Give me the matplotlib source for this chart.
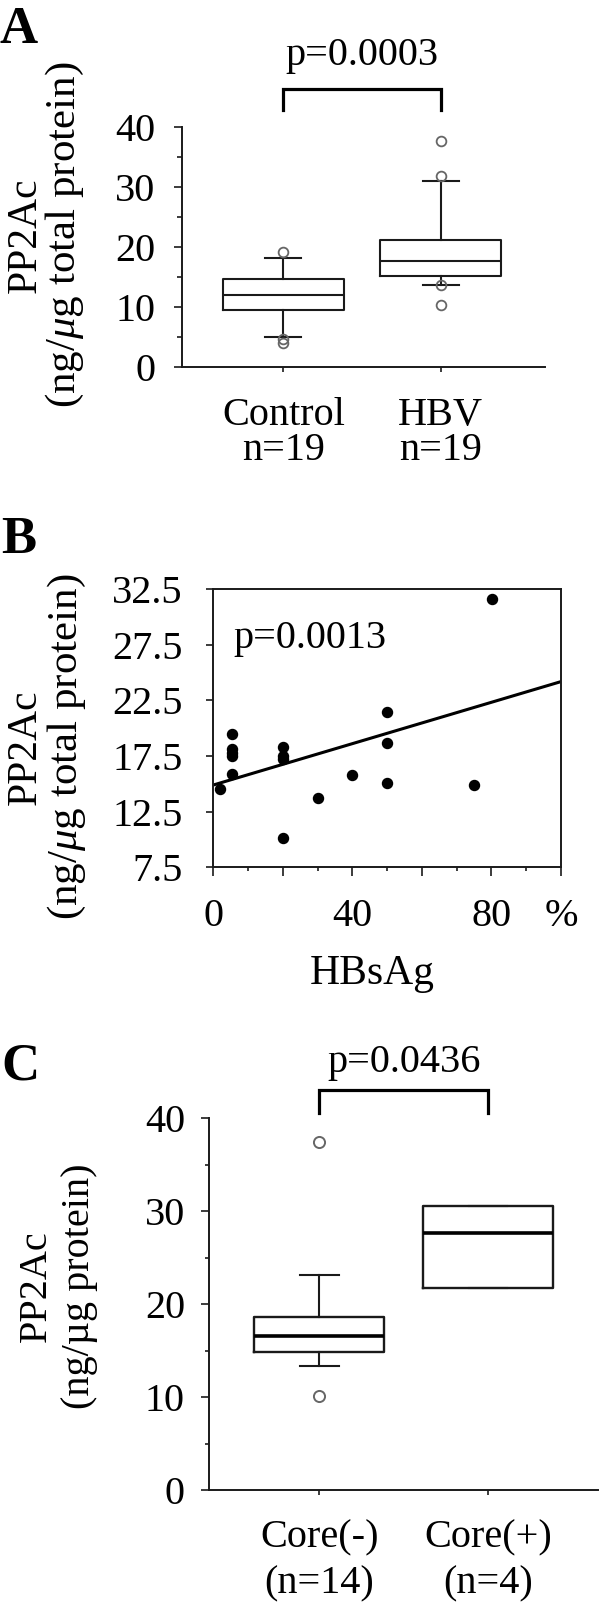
import numpy as np
import matplotlib
matplotlib.use("Agg")
import matplotlib.pyplot as plt

plt.rcParams['font.family'] = ['Liberation Serif', 'DejaVu Serif']
plt.rcParams['mathtext.fontset'] = 'custom'
plt.rcParams['mathtext.rm'] = 'Liberation Serif'
plt.rcParams['mathtext.it'] = 'Liberation Serif:italic'

# ---- data ----
# Panel A: box stats
a_groups = ["Control", "HBV"]
a_counts = ["n=19", "n=19"]
a_med = [12.0, 17.6]
a_q1 = [9.5, 15.1]
a_q3 = [14.7, 21.2]
a_whislo = [5.0, 13.7]
a_whishi = [18.2, 31.0]
a_fliers = [[19.2, 4.65, 4.1], [37.6, 31.8, 13.7, 10.4]]
a_p = "p=0.0003"

# Panel B: HBsAg % vs PP2Ac
b_x = [1.9, 5.3, 5.3, 5.3, 5.3, 5.3, 20.1, 20.1, 20.1, 20.1, 30.2, 40.0,
       50.0, 50.0, 50.0, 75.0, 80.1]
b_y = [14.5, 19.5, 18.1, 17.8, 17.5, 15.9, 18.3, 17.5, 17.2, 10.1, 13.7,
       15.8, 21.5, 18.7, 15.1, 14.9, 31.6]
b_fit_x = [0, 100]
b_fit_y = [14.9, 24.2]
b_p = "p=0.0013"

# Panel C
c_groups = ["Core(-)", "Core(+)"]
c_counts = ["(n=14)", "(n=4)"]
c_med = [16.6, 27.7]
c_q1 = [14.9, 21.7]
c_q3 = [18.66, 30.6]
c_whislo = [13.3, 21.7]
c_whishi = [23.1, 30.6]
c_fliers = [[37.5, 10.15], []]
c_p = "p=0.0436"

W, H = 600, 1605
FS = 29
INK = '#1a1a1a'

fig = plt.figure(figsize=(W / 100, H / 100), dpi=100)


def add_ax(l, t, r, b):
    return fig.add_axes([l / W, 1 - b / H, (r - l) / W, (b - t) / H])


def fig_text(xp, yp, s, **kw):
    fig.text(xp / W, 1 - yp / H, s, **kw)


def stats(med, q1, q3, lo, hi, fl):
    return [dict(med=m, q1=a, q3=b, whislo=c, whishi=d, fliers=f)
            for m, a, b, c, d, f in zip(med, q1, q3, lo, hi, fl)]


def style_axis(ax):
    for s in ax.spines.values():
        s.set_linewidth(1.4)
        s.set_color(INK)
    ax.tick_params(colors=INK, width=1.2, labelsize=FS, labelcolor='black')


def bracket(ax, x1, x2, ytop, ybot, lw=2.3):
    ax.plot([x1, x1, x2, x2], [ybot, ytop, ytop, ybot], color='black',
            lw=lw, clip_on=False, solid_joinstyle='miter')


def cat_labels(ax, names, counts, off1, off2):
    # two-line category labels under the axis; offsets in pixels below it
    for i, (nm, ct) in enumerate(zip(names, counts)):
        for s, off in ((nm, off1), (ct, off2)):
            ax.annotate(s, xy=(i + 1, 0), xycoords=('data', 'axes fraction'),
                        xytext=(0, -off * 0.72), textcoords='offset points',
                        ha='center', va='baseline', fontsize=FS,
                        annotation_clip=False)


def ylabel2(x1, x2, yc, top, bottom, fs1, fs2):
    # two rotated lines, each placed by its baseline (pixels)
    fig_text(x1, yc, top, fontsize=fs1, rotation=90, rotation_mode='anchor',
             ha='center', va='baseline')
    fig_text(x2, yc, bottom, fontsize=fs2, rotation=90,
             rotation_mode='anchor', ha='center', va='baseline')


flier_style = dict(marker='o', mfc='none', mec='#666666', ms=7, mew=1.3)

# ---------------- Panel A ----------------
ax = add_ax(181.7, 126.7, 545, 367.3)
ax.bxp(stats(a_med, a_q1, a_q3, a_whislo, a_whishi, a_fliers),
       positions=[1, 2], widths=0.77, capwidths=0.23,
       boxprops=dict(color=INK, lw=1.5), whiskerprops=dict(color=INK, lw=1.5),
       capprops=dict(color=INK, lw=1.5), medianprops=dict(color=INK, lw=1.5),
       flierprops=flier_style)
ax.set_xlim(0.354, 2.663)
ax.set_ylim(0, 40)
ax.set_yticks([0, 10, 20, 30, 40])
ax.set_yticks([5, 15, 25, 35], minor=True)
ax.set_xticks([1, 2])
ax.set_xticklabels([])
ax.spines['top'].set_visible(False)
ax.spines['right'].set_visible(False)
style_axis(ax)
ax.tick_params(axis='y', which='major', length=5.8, pad=13)
ax.tick_params(axis='y', which='minor', length=3.6, width=1.2, colors=INK)
ax.tick_params(axis='x', length=3.6)
cat_labels(ax, a_groups, a_counts, 58, 93)
bracket(ax, 1, 2, 46.3, 42.8)
ax.text(1.5, 50.3, a_p, ha='center', va='baseline', fontsize=FS,
        clip_on=False)

fig_text(0, 43, "A", fontsize=38, fontweight='bold', va='baseline')
ylabel2(36, 75, 235, "PP2Ac", r"(ng/$\mu$g total protein)", 30, 31)

# ---------------- Panel B ----------------
ax = add_ax(213.3, 589.3, 561, 867.3)
ax.scatter(b_x, b_y, s=52, color='black', zorder=3, clip_on=False)
ax.plot(b_fit_x, b_fit_y, color='black', lw=2.2)
ax.set_xlim(0, 100)
ax.set_ylim(7.5, 32.5)
ax.set_yticks([7.5, 12.5, 17.5, 22.5, 27.5, 32.5])
ax.set_yticklabels(["7.5", "12.5", "17.5", "22.5", "27.5", "32.5"])
ax.set_xticks([0, 20, 40, 60, 80, 100])
ax.set_xticklabels(["0", "", "40", "", "80", "%"])
ax.set_xticks([10, 30, 50, 70, 90], minor=True)
style_axis(ax)
ax.tick_params(axis='y', length=5, pad=17)
ax.tick_params(axis='x', which='major', length=6.2, pad=16)
ax.tick_params(axis='x', which='minor', length=3.1, width=1.2, colors=INK)
ax.text(5.7, 27.2, b_p, ha='left', va='baseline', fontsize=FS)
fig_text(372, 984, "HBsAg", fontsize=30, ha='center', va='baseline')

fig_text(1, 553, "B", fontsize=38, fontweight='bold', va='baseline')
ylabel2(36, 77, 747, "PP2Ac", r"(ng/$\mu$g total protein)", 30, 31)

# ---------------- Panel C ----------------
ax = add_ax(209.3, 1118.3, 598, 1490)
ax.bxp(stats(c_med, c_q1, c_q3, c_whislo, c_whishi, c_fliers),
       positions=[1, 2], widths=0.77, capwidths=0.23,
       boxprops=dict(color=INK, lw=1.7), whiskerprops=dict(color=INK, lw=1.5),
       capprops=dict(color=INK, lw=1.5), medianprops=dict(color='black', lw=2.6),
       flierprops=dict(flier_style, ms=8, mew=1.4))
ax.set_xlim(0.348, 2.652)
ax.set_ylim(0, 40)
ax.set_yticks([0, 10, 20, 30, 40])
ax.set_yticks([5, 15, 25, 35], minor=True)
ax.set_xticks([1, 2])
ax.set_xticklabels([])
ax.spines['top'].set_visible(False)
ax.spines['right'].set_visible(False)
style_axis(ax)
ax.tick_params(axis='y', which='major', length=5.5, pad=12)
ax.tick_params(axis='y', which='minor', length=3, width=1.2, colors=INK)
ax.tick_params(axis='x', length=3.6)
cat_labels(ax, c_groups, c_counts, 57, 103)
bracket(ax, 1, 2, 43.0, 40.6)
ax.text(1.5, 45.0, c_p, ha='center', va='baseline', fontsize=FS,
        clip_on=False)

fig_text(1, 1080, "C", fontsize=38, fontweight='bold', va='baseline')
ylabel2(46, 89, 1286, "PP2Ac", "(ng/\u00b5g protein)", FS, FS)

fig.savefig("out.png", dpi=100)
